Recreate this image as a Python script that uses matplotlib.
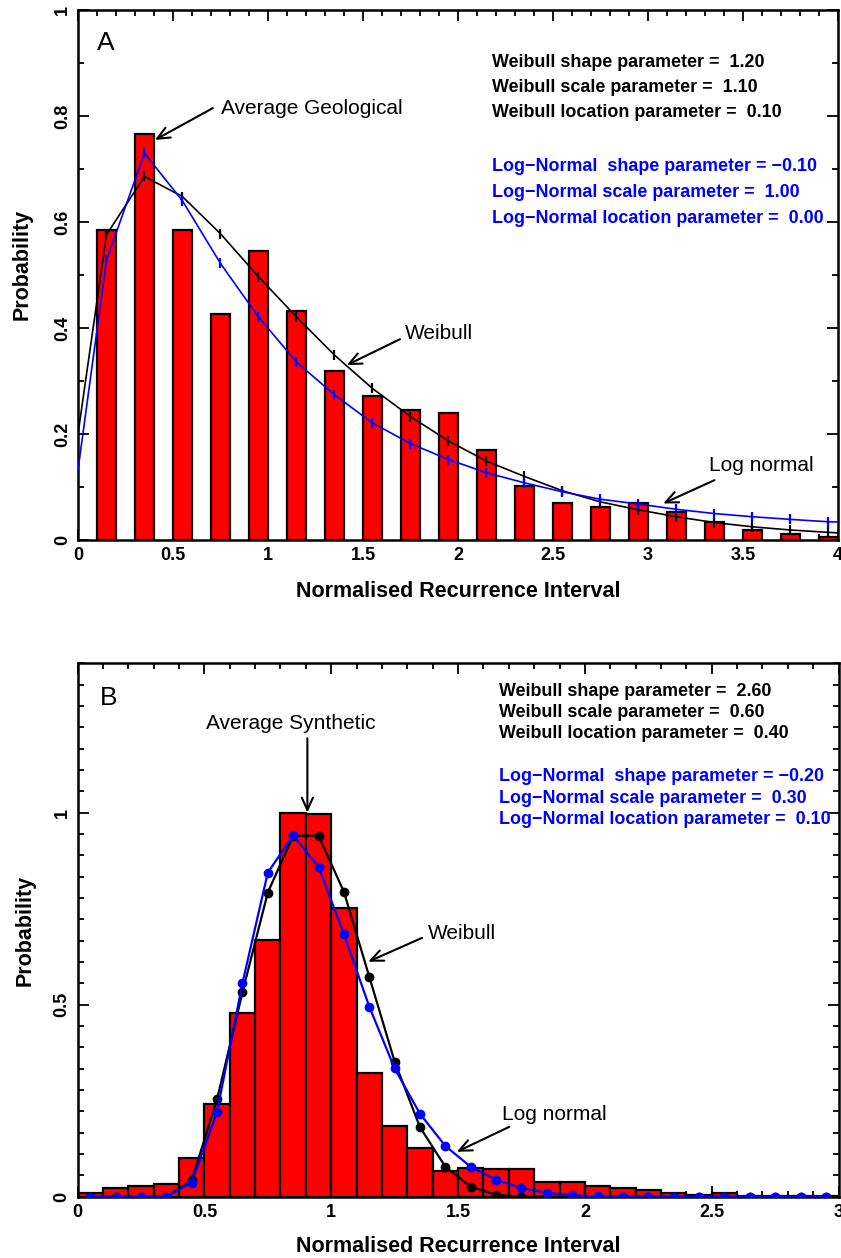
import numpy as np
import matplotlib
matplotlib.use("Agg")
import matplotlib.pyplot as plt
from matplotlib.ticker import MultipleLocator

plt.rcParams['font.family'] = ['Liberation Sans', 'DejaVu Sans']

# --- panel A: geological recurrence intervals ---
a_bin_left = np.arange(0.1, 4.0, 0.2)
a_hist = [0.585, 0.767, 0.585, 0.426, 0.546, 0.432, 0.319, 0.271, 0.245, 0.239,
          0.170, 0.102, 0.069, 0.063, 0.069, 0.052, 0.035, 0.019, 0.011, 0.006]

# curves start at 0, then one point per bin centre, then the right edge
a_curve_x = [0.0, 0.15, 0.35, 0.55, 0.75, 0.95, 1.15, 1.35, 1.55, 1.75, 1.95,
             2.15, 2.35, 2.55, 2.75, 2.95, 3.15, 3.35, 3.55, 3.75, 3.95, 4.0]
a_weibull = [0.20, 0.576, 0.686, 0.648, 0.578, 0.497, 0.421, 0.349, 0.286, 0.233, 0.187,
             0.149, 0.120, 0.093, 0.072, 0.057, 0.044, 0.033, 0.025, 0.019, 0.0145, 0.0135]
a_lognorm = [0.132, 0.528, 0.730, 0.640, 0.522, 0.421, 0.336, 0.274, 0.221, 0.182, 0.152,
             0.127, 0.108, 0.091, 0.077, 0.068, 0.058, 0.050, 0.044, 0.039, 0.0345, 0.034]

a_weib_params = ["Weibull shape parameter =  1.20",
                 "Weibull scale parameter =  1.10",
                 "Weibull location parameter =  0.10"]
a_logn_params = ["Log\u2212Normal  shape parameter = \u22120.10",
                 "Log\u2212Normal scale parameter =  1.00",
                 "Log\u2212Normal location parameter =  0.00"]

# --- panel B: synthetic recurrence intervals ---
b_bin_left = np.arange(0.0, 3.0, 0.1)
b_hist = [0.010, 0.023, 0.028, 0.033, 0.100, 0.241, 0.478, 0.668, 1.000, 0.997,
          0.751, 0.323, 0.184, 0.126, 0.067, 0.074, 0.073, 0.073, 0.038, 0.039,
          0.029, 0.024, 0.017, 0.010, 0.004, 0.010, 0.002, 0.001, 0.003, 0.001]
b_curve_x = b_bin_left + 0.05
b_weibull = [0, 0, 0, 0, 0.043, 0.254, 0.532, 0.792, 0.940, 0.940,
             0.794, 0.573, 0.352, 0.181, 0.078, 0.026, 0.005, 0, 0, 0,
             0, 0, 0, 0, 0, 0, 0, 0, 0, 0]
b_lognorm = [0, 0, 0, 0, 0.037, 0.221, 0.556, 0.844, 0.941, 0.859,
             0.684, 0.495, 0.334, 0.216, 0.132, 0.078, 0.044, 0.023, 0.010, 0.004,
             0.001, 0, 0, 0, 0, 0, 0, 0, 0, 0]

b_weib_params = ["Weibull shape parameter =  2.60",
                 "Weibull scale parameter =  0.60",
                 "Weibull location parameter =  0.40"]
b_logn_params = ["Log\u2212Normal  shape parameter = \u22120.20",
                 "Log\u2212Normal scale parameter =  0.30",
                 "Log\u2212Normal location parameter =  0.10"]

fig = plt.figure(figsize=(8.41, 12.58), dpi=100)
axA = fig.add_axes([0.0927, 0.5707, 0.9037, 0.4213])
axB = fig.add_axes([0.0922, 0.0487, 0.9049, 0.4240])

arrow = dict(arrowstyle='->,head_length=0.9,head_width=0.4', color='black',
             lw=1.5, mutation_scale=10, shrinkA=0, shrinkB=0)


def style_axes(ax, xmaj, ymaj, ymin):
    for s in ax.spines.values():
        s.set_linewidth(1.8)
    ax.xaxis.set_major_locator(MultipleLocator(xmaj))
    ax.xaxis.set_minor_locator(MultipleLocator(0.1))
    ax.yaxis.set_major_locator(MultipleLocator(ymaj))
    ax.yaxis.set_minor_locator(MultipleLocator(ymin))
    ax.tick_params(which='both', direction='in', top=True, right=True, width=1.3)
    ax.tick_params(which='major', length=8)
    ax.tick_params(which='minor', length=4)
    ax.tick_params(axis='both', labelsize=13, pad=5)
    ax.tick_params(axis='y', labelrotation=90)
    for lab in ax.get_xticklabels() + ax.get_yticklabels():
        lab.set_fontweight('bold')
    for lab in ax.get_yticklabels():
        lab.set_va('center')
    ax.xaxis.set_major_formatter(lambda v, p: f"{v:g}")
    ax.yaxis.set_major_formatter(lambda v, p: f"{v:g}")
    ax.set_xlabel("Normalised Recurrence Interval", fontsize=15.5, fontweight='bold')
    ax.set_ylabel("Probability", fontsize=15.5, fontweight='bold')


# panel A
axA.bar(a_bin_left, a_hist, width=0.1, align='edge', color='red',
        edgecolor='black', linewidth=1.6, zorder=2)
axA.plot(a_curve_x, a_weibull, color='black', lw=1.2, marker='|', ms=7, mew=1.6,
         markevery=slice(1, 21), zorder=3)
axA.plot(a_curve_x, a_lognorm, color='blue', lw=1.2, marker='|', ms=7, mew=1.6,
         markevery=slice(1, 21), zorder=4)
axA.set_xlim(0, 4)
axA.set_ylim(0, 1)
style_axes(axA, 0.5, 0.2, 0.1)
axA.xaxis.set_label_coords(0.5, -0.077)
axA.yaxis.set_label_coords(-0.06, 0.52)

axA.text(0.1, 0.938, "A", fontsize=19, ha='left', va='center')
axA.annotate('', xy=(0.405, 0.755), xytext=(0.71, 0.815), arrowprops=arrow)
axA.text(0.755, 0.815, "Average Geological", fontsize=15, ha='left', va='center')
axA.annotate('', xy=(1.414, 0.330), xytext=(1.695, 0.379), arrowprops=arrow)
axA.text(1.72, 0.39, "Weibull", fontsize=15, ha='left', va='center')
axA.annotate('', xy=(3.08, 0.069), xytext=(3.35, 0.113), arrowprops=arrow)
axA.text(3.322, 0.140, "Log normal", fontsize=15, ha='left', va='center')

for t, y in zip(a_weib_params, [0.902, 0.853, 0.806]):
    axA.text(2.177, y, t, fontsize=12.9, fontweight='bold', ha='left', va='center')
for t, y in zip(a_logn_params, [0.705, 0.655, 0.606]):
    axA.text(2.177, y, t, fontsize=12.9, fontweight='bold', color='blue',
             ha='left', va='center')

# panel B
axB.bar(b_bin_left, b_hist, width=0.1, align='edge', color='red',
        edgecolor='black', linewidth=1.6, zorder=2)
axB.plot(b_curve_x, b_weibull, color='black', lw=1.6, marker='o', ms=6, zorder=3)
axB.plot(b_curve_x, b_lognorm, color='blue', lw=1.6, marker='o', ms=6, zorder=4)
axB.set_xlim(0, 3)
axB.set_ylim(0, 1.3889)
style_axes(axB, 0.5, 0.5, 0.5 / 9)
axB.xaxis.set_label_coords(0.5, -0.073)
axB.yaxis.set_label_coords(-0.055, 0.5)

axB.text(0.089, 1.299, "B", fontsize=19, ha='left', va='center')
axB.annotate('', xy=(0.906, 1.0), xytext=(0.906, 1.194), arrowprops=arrow)
axB.text(0.839, 1.231, "Average Synthetic", fontsize=15, ha='center', va='center')
axB.annotate('', xy=(1.146, 0.612), xytext=(1.358, 0.674), arrowprops=arrow)
axB.text(1.383, 0.686, "Weibull", fontsize=15, ha='left', va='center')
axB.annotate('', xy=(1.495, 0.117), xytext=(1.702, 0.182), arrowprops=arrow)
axB.text(1.672, 0.2146, "Log normal", fontsize=15, ha='left', va='center')

for t, y in zip(b_weib_params, [1.315, 1.260, 1.207]):
    axB.text(1.663, y, t, fontsize=12.9, fontweight='bold', ha='left', va='center')
for t, y in zip(b_logn_params, [1.094, 1.038, 0.983]):
    axB.text(1.663, y, t, fontsize=12.9, fontweight='bold', color='blue',
             ha='left', va='center')

fig.savefig("out.png", dpi=100)
